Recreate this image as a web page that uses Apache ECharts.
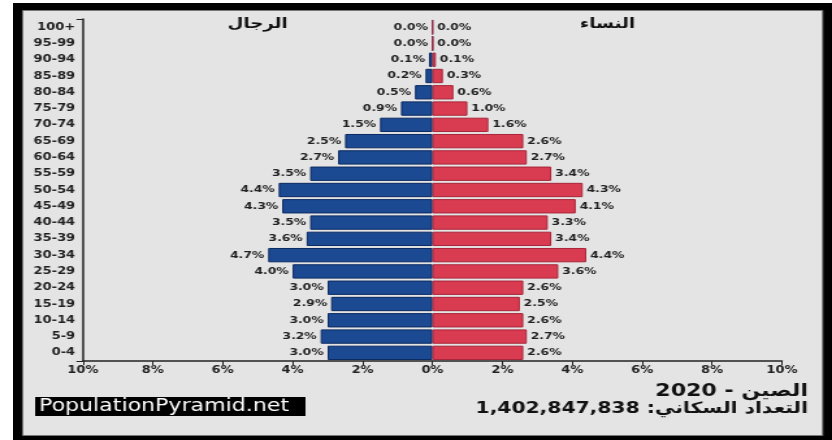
<!DOCTYPE html>
<html>
<head>
<meta charset="utf-8">
<script src="https://cdn.jsdelivr.net/npm/echarts@6/dist/echarts.min.js"></script>
<style>
html,body{margin:0;padding:0;background:#fff;overflow:hidden;}
#wrap{position:absolute;left:13px;top:3px;width:819px;height:437px;background:#000;}
#chart{position:absolute;left:0;top:0;width:640px;height:440px;transform:scaleX(1.3);transform-origin:0 0;}
</style>
</head>
<body>
<div id="wrap"></div>
<div id="chart"></div>
<script>
const ageGroups = ['100+','95-99','90-94','85-89','80-84','75-79','70-74','65-69','60-64','55-59','50-54','45-49','40-44','35-39','30-34','25-29','20-24','15-19','10-14','5-9','0-4'];
const maleValues = [0.0,0.0,0.1,0.2,0.5,0.9,1.5,2.5,2.7,3.5,4.4,4.3,3.5,3.6,4.7,4.0,3.0,2.9,3.0,3.2,3.0];
const femaleValues = [0.0,0.01,0.1,0.3,0.6,1.0,1.6,2.6,2.7,3.4,4.3,4.1,3.3,3.4,4.4,3.6,2.6,2.5,2.6,2.7,2.6];
const xTicks = [-10,-8,-6,-4,-2,0,2,4,6,8,10];
const maleTitle = 'الرجال';
const femaleTitle = 'النساء';
const countryYear = 'الصين - 2020';
const populationText = 'التعداد السكاني: 1,402,847,838';
const brand = 'PopulationPyramid.net';

const chart = echarts.init(document.getElementById('chart'), null, {renderer:'canvas'});
const lblFont = {fontFamily:'DejaVu Sans', fontWeight:'bold', fontSize:9.5, color:'#222'};
chart.setOption({
  animation:false,
  backgroundColor:'transparent',
  graphic:[
    {type:'rect', left:16.9, top:10, shape:{width:615.4, height:425}, style:{fill:'#e4e4e4', stroke:'#777', lineWidth:1}, z:-10},
    {type:'rect', left:27, top:397, shape:{width:208, height:19}, style:{fill:'#000'}},
    {type:'text', left:30, top:398, style:{text:brand, fill:'#fff', font:'17px "DejaVu Sans"'}},
    {type:'text', right:18.5, top:383, style:{text:countryYear, fill:'#111', font:'bold 17px "DejaVu Sans"', align:'right'}},
    {type:'text', right:18.5, top:401, style:{text:populationText, fill:'#111', font:'bold 15.6px "DejaVu Sans"', align:'right'}},
    {type:'text', left:175, top:17, style:{text:maleTitle, fill:'#111', font:'bold 14px "DejaVu Sans"'}},
    {type:'text', left:446, top:17, style:{text:femaleTitle, fill:'#111', font:'bold 14px "DejaVu Sans"'}}
  ],
  grid:{left:63.8, right:38.5, top:19, bottom:79, containLabel:false},
  xAxis:{
    type:'value', min:-10, max:10, interval:2,
    axisLine:{show:true, onZero:false, lineStyle:{color:'#222', width:1.5}},
    axisTick:{show:true, length:4, inside:false, lineStyle:{color:'#222'}},
    splitLine:{show:false},
    axisLabel:{margin:4, formatter:v=>Math.abs(v)+'%', fontFamily:'DejaVu Sans', fontWeight:'bold', fontSize:10, color:'#222'}
  },
  yAxis:{
    type:'category', data:ageGroups, inverse:true,
    axisLine:{show:true, onZero:false, lineStyle:{color:'#222', width:1.5}},
    axisTick:{show:true, length:5, interval:(i)=>i===0, lineStyle:{color:'#222'}},
    axisLabel:{margin:6, fontFamily:'DejaVu Sans', fontWeight:'bold', fontSize:10, color:'#222'}
  },
  series:[
    {name:'male', type:'bar', data:maleValues.map(v=>-v), barGap:'-100%', barCategoryGap:'12%',
     itemStyle:{color:'#1b4a92', borderColor:'#0c2a62', borderWidth:1},
     label:{show:true, position:'left', distance:3, formatter:p=>Math.abs(p.value).toFixed(1)+'%', ...lblFont}},
    {name:'female', type:'bar', data:femaleValues, barGap:'-100%', barCategoryGap:'12%',
     itemStyle:{color:'#d93b50', borderColor:'#a8263a', borderWidth:1},
     label:{show:true, position:'right', distance:3, formatter:p=>Math.abs(p.value).toFixed(1)+'%', ...lblFont}}
  ]
});
</script>
</body>
</html>
